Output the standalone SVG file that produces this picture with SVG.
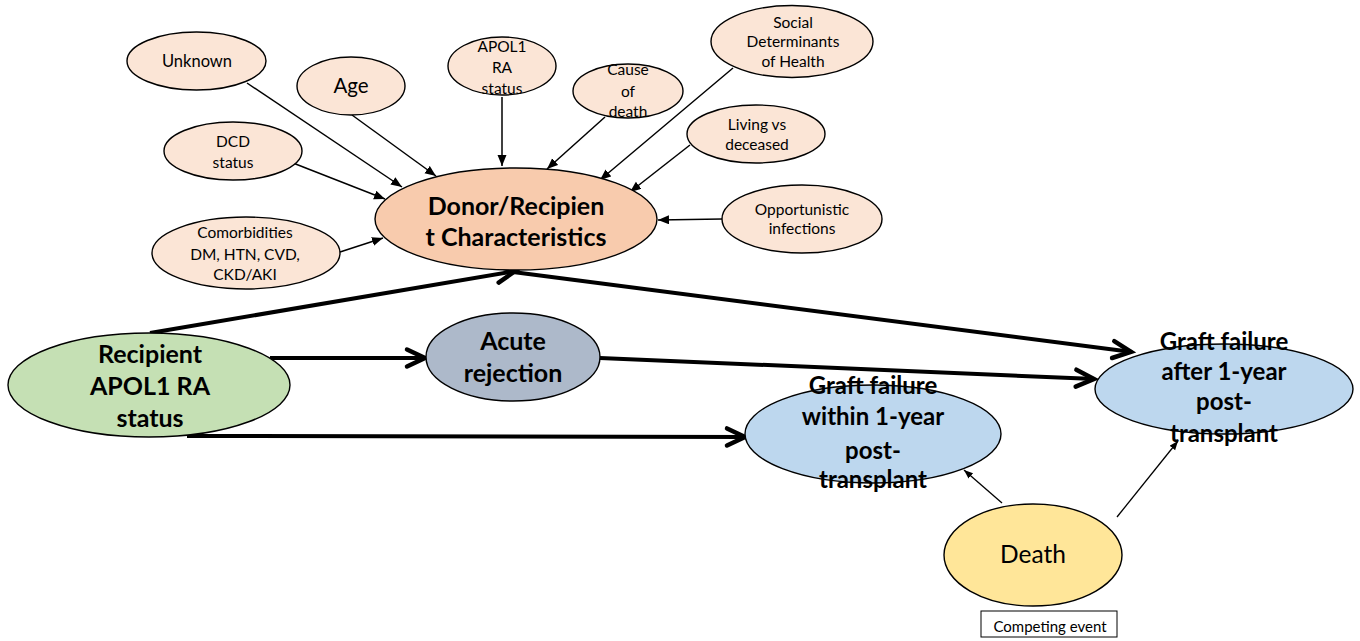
<svg xmlns="http://www.w3.org/2000/svg" width="1360" height="641" viewBox="0 0 1360 641">
<defs>
<marker id="tri" markerUnits="userSpaceOnUse" markerWidth="12" markerHeight="10" refX="11" refY="4.5" orient="auto">
<path d="M0,0 L11,4.5 L0,9 z" fill="#000"/>
</marker>
<marker id="chev" markerUnits="userSpaceOnUse" markerWidth="26" markerHeight="24" refX="22" refY="12" orient="auto" overflow="visible">
<path d="M3,3.5 L21,12 L3,20.5" fill="none" stroke="#000" stroke-width="4.5" stroke-linejoin="miter" stroke-linecap="round"/>
</marker>
<marker id="tri2" markerUnits="userSpaceOnUse" markerWidth="12" markerHeight="10" refX="9" refY="3.5" orient="auto">
<path d="M0,0 L9,3.5 L0,7 z" fill="#000"/>
</marker>
</defs>
<style>
text{font-family:Lato,"Liberation Sans",sans-serif;fill:#000;text-anchor:middle}
.s{font-size:15.5px}
.b{font-weight:bold}
ellipse{stroke:#000;stroke-width:1.4}
.pk{fill:#FBE5D6}
.thin{stroke:#000;stroke-width:1.5;fill:none;marker-end:url(#tri)}
.thick{stroke:#000;stroke-width:4;fill:none;marker-end:url(#chev)}
.mid{stroke:#000;stroke-width:1.3;fill:none;marker-end:url(#tri2)}
</style>
<rect width="1360" height="641" fill="#fff"/>

<g id="connectors">
<line class="thin" x1="247" y1="83" x2="402" y2="187"/>
<line class="thin" x1="352" y1="115" x2="436" y2="176"/>
<line class="thin" x1="502" y1="97" x2="502" y2="166"/>
<line class="thin" x1="293" y1="163" x2="385" y2="199"/>
<line class="thin" x1="340" y1="252" x2="383" y2="238"/>
<line class="thin" x1="605" y1="117" x2="547" y2="169"/>
<line class="thin" x1="733" y1="68" x2="600" y2="180"/>
<line class="thin" x1="690" y1="145" x2="630" y2="192"/>
<line class="thin" x1="722" y1="219" x2="658" y2="220"/>
<line class="thick" x1="150" y1="333" x2="516" y2="271"/>
<line class="thick" x1="513" y1="272" x2="1132" y2="352"/>
<line class="thick" x1="270" y1="358" x2="426" y2="358"/>
<line class="thick" x1="600" y1="358" x2="1095" y2="379"/>
<line class="thick" x1="187" y1="436" x2="746" y2="437"/>
<line class="mid" x1="1002" y1="503" x2="964" y2="470"/>
<line class="mid" x1="1117" y1="517" x2="1178" y2="441"/>
</g>

<g id="unknown"><ellipse class="pk" cx="196.5" cy="61" rx="69.5" ry="29"/><text x="197" y="67" font-size="16.5">Unknown</text></g>
<g id="age"><ellipse class="pk" cx="351" cy="86" rx="54" ry="29"/><text x="351" y="93" font-size="20.5">Age</text></g>
<g id="apol1-donor"><ellipse class="pk" cx="502" cy="66" rx="54" ry="29"/><text class="s" x="502" y="52">APOL1</text><text class="s" x="502" y="73">RA</text><text class="s" x="502" y="94">status</text></g>
<g id="dcd"><ellipse class="pk" cx="233" cy="151" rx="69" ry="29"/><text class="s" x="233" y="147">DCD</text><text class="s" x="233" y="168">status</text></g>
<g id="comorbidities"><ellipse class="pk" cx="246" cy="253" rx="94" ry="36"/><text class="s" x="245" y="238">Comorbidities</text><text class="s" x="245" y="260">DM, HTN, CVD,</text><text class="s" x="245" y="280">CKD/AKI</text></g>
<g id="cause"><ellipse class="pk" cx="628" cy="91" rx="55" ry="27"/><text class="s" x="628" y="75">Cause</text><text class="s" x="628" y="97">of</text><text class="s" x="628" y="117">death</text></g>
<g id="social"><ellipse class="pk" cx="792" cy="41.5" rx="81" ry="36"/><text class="s" x="793" y="28">Social</text><text class="s" x="793" y="47">Determinants</text><text class="s" x="793" y="67">of Health</text></g>
<g id="living"><ellipse class="pk" cx="756" cy="134" rx="69" ry="29"/><text class="s" x="757" y="130">Living vs</text><text class="s" x="757" y="150">deceased</text></g>
<g id="opportunistic"><ellipse class="pk" cx="802" cy="219" rx="80" ry="34"/><text class="s" x="802" y="215">Opportunistic</text><text class="s" x="802" y="234">infections</text></g>

<g id="donor"><ellipse cx="516" cy="219" rx="141" ry="51" fill="#F8CBAD"/><text class="b" font-size="25" x="516" y="215">Donor/Recipien</text><text class="b" font-size="25" x="516" y="246">t Characteristics</text></g>
<g id="recipient"><ellipse cx="149" cy="385" rx="141" ry="52" fill="#C5E0B4"/><text class="b" font-size="25" x="150" y="363">Recipient</text><text class="b" font-size="25" x="150" y="395">APOL1 RA</text><text class="b" font-size="25" x="150" y="427">status</text></g>
<g id="acute"><ellipse cx="513" cy="357" rx="87" ry="44" fill="#ADB9CA"/><text class="b" font-size="25" x="513" y="350">Acute</text><text class="b" font-size="25" x="513" y="382">rejection</text></g>
<g id="graft-within"><ellipse cx="873" cy="434" rx="128" ry="49" fill="#BDD7EE"/><text class="b" font-size="24" x="873" y="394">Graft failure</text><text class="b" font-size="24" x="873" y="425">within 1-year</text><text class="b" font-size="24" x="873" y="459">post-</text><text class="b" font-size="24" x="873" y="488">transplant</text></g>
<g id="graft-after"><ellipse cx="1224" cy="389" rx="129" ry="45" fill="#BDD7EE"/><text class="b" font-size="24" x="1224" y="350">Graft failure</text><text class="b" font-size="24" x="1224" y="380">after 1-year</text><text class="b" font-size="24" x="1224" y="410">post-</text><text class="b" font-size="24" x="1224" y="442">transplant</text></g>
<g id="death"><ellipse cx="1033" cy="555" rx="89" ry="51" fill="#FFE699"/><text x="1033" y="563" font-size="24.5">Death</text></g>
<g id="competing"><rect x="981" y="611" width="136" height="26" fill="#fff" stroke="#000" stroke-width="1"/><text x="1050" y="632" font-size="15">Competing event</text></g>
</svg>
